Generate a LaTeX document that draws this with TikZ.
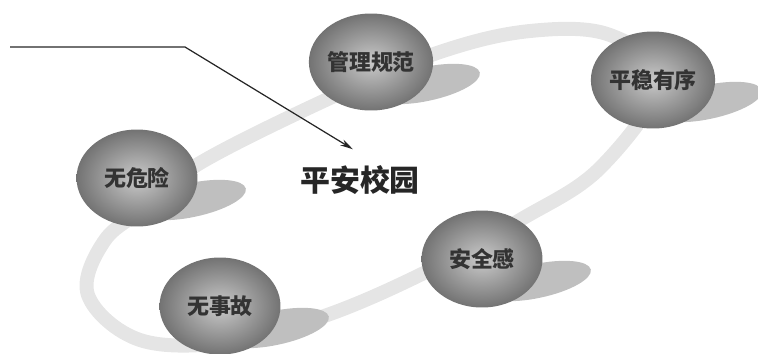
\documentclass[tikz,border=0pt]{standalone}
\usepackage{fontspec}
\newfontfamily\cjk{Noto Sans CJK SC}
\usetikzlibrary{shapes.geometric,backgrounds,arrows.meta}
\tikzset{
    ball/.style={ellipse,minimum width=2.42cm,minimum height=1.94cm,inner sep=0pt,shading=radial,inner color=gray!42,outer color=gray!90!black,font=\cjk\bfseries\fontsize{12.5}{14}\selectfont,text=black!80},
    ring/.style={line width=0.28cm,color=gray!20,line join=round},
    shadowfill/.style={fill=gray!50}
}
\begin{document}
\begin{tikzpicture}[x=0.02cm,y=-0.02cm]
        \useasboundingbox (0,0) rectangle (758,353);
        \node[ball] (glgf) at (371,62) {管理规范};
        \node[ball] (pwyx) at (653,80) {平稳有序};
        \node[ball] (wwx) at (137,178) {无危险};
        \node[ball] (aqg) at (482,259) {安全感};
        \node[ball] (wsg) at (220,306) {无事故};
        \node[font=\cjk\bfseries\fontsize{17}{19}\selectfont,text=black!85] (pazx) at (360,180) {平安校园};
        \coordinate (start) at (10,47);
        \coordinate (bend) at (185,47);
        \draw[line width=0.7pt,color=black!85,-{Stealth[length=0.26cm,width=0.13cm]}] (start) -- (bend) -- ([shift={(-7,-10)}]pazx.north);
        \begin{scope}[on background layer]
            \draw[ring] plot[smooth cycle,tension=0.6] coordinates {(200,163) (330,98) (440,52) (530,31) (610,35) (660,80) (600,168) (520,220) (430,270) (330,314) (230,342) (140,340) (88,295) (105,240) (150,205)};
            \foreach \x/\y in {371/62,653/80,137/178,482/259,220/306}
                \fill[shadowfill,rotate around={12:(\x+55,\y+22)}] (\x+55,\y+22) ellipse [x radius=55,y radius=17];
        \end{scope}
    \end{tikzpicture}
\end{document}
